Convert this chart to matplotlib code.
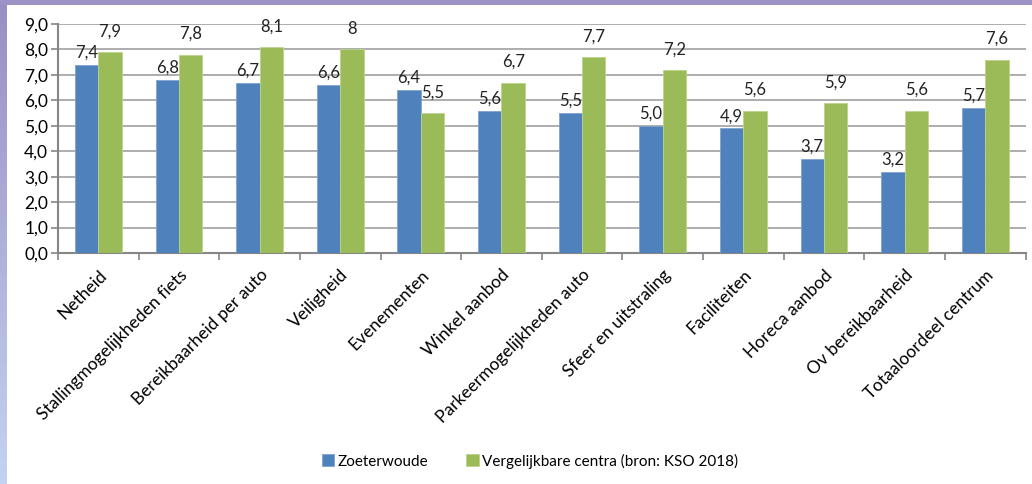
import numpy as np
import matplotlib
matplotlib.use('Agg')
import matplotlib.pyplot as plt
from matplotlib.ticker import MultipleLocator, FuncFormatter
from matplotlib.patches import Rectangle

plt.rcParams['font.family'] = ['Lato', 'DejaVu Sans']

categories = ['Netheid', 'Stallingmogelijkheden fiets', 'Bereikbaarheid per auto',
              'Veiligheid', 'Evenementen', 'Winkel aanbod',
              'Parkeermogelijkheden auto', 'Sfeer en uitstraling', 'Faciliteiten',
              'Horeca aanbod', 'Ov bereikbaarheid', 'Totaaloordeel centrum']
zoeterwoude = [7.4, 6.8, 6.7, 6.6, 6.4, 5.6, 5.5, 5.0, 4.9, 3.7, 3.2, 5.7]
vergelijkbaar = [7.9, 7.8, 8.1, 8.0, 5.5, 6.7, 7.7, 7.2, 5.6, 5.9, 5.6, 7.6]
labels_zoeterwoude = ['7,4', '6,8', '6,7', '6,6', '6,4', '5,6', '5,5', '5,0', '4,9', '3,7', '3,2', '5,7']
labels_vergelijkbaar = ['7,9', '7,8', '8,1', '8', '5,5', '6,7', '7,7', '7,2', '5,6', '5,9', '5,6', '7,6']
series_names = ['Zoeterwoude', 'Vergelijkbare centra (bron: KSO 2018)']

blue = '#4F81BD'
green = '#9BBB59'

fig = plt.figure(figsize=(10.32, 4.84), dpi=100)
ax = fig.add_axes([58 / 1032, 1 - 253 / 484, (1025.5 - 58) / 1032, (253 - 24) / 484])

x = np.arange(len(categories))
w = 0.29
b1 = ax.bar(x - w / 2, zoeterwoude, w, color=blue, edgecolor='#7fa3d1', linewidth=0.6,
            label=series_names[0], zorder=3)
b2 = ax.bar(x + w / 2, vergelijkbaar, w, color=green, edgecolor='#bcd48d', linewidth=0.6,
            label=series_names[1], zorder=3)

for rect, lab in zip(b1, labels_zoeterwoude):
    ax.annotate(lab, (rect.get_x() + rect.get_width() / 2, rect.get_height()),
                xytext=(0, 3), textcoords='offset points', ha='center', va='bottom',
                fontsize=12, color='#222222')
for rect, lab in zip(b2, labels_vergelijkbaar):
    ax.annotate(lab, (rect.get_x() + rect.get_width() / 2, rect.get_height()),
                xytext=(0, 9), textcoords='offset points', ha='center', va='bottom',
                fontsize=12, color='#222222')

ax.set_xlim(-0.5, len(categories) - 0.5)
ax.set_ylim(0, 9)
ax.yaxis.set_major_locator(MultipleLocator(1))
ax.yaxis.set_major_formatter(FuncFormatter(lambda v, p: '{:.1f}'.format(v).replace('.', ',')))
ax.grid(axis='y', color='#a0a0a0', linewidth=1.2, zorder=0)
ax.set_axisbelow(True)

ax.set_xticks(x)
ax.set_xticklabels(categories, rotation=45, ha='right', rotation_mode='anchor', fontsize=12.5)
ax.tick_params(axis='x', length=0, pad=10)
ax.set_xticks(np.arange(-0.5, len(categories), 1), minor=True)
ax.tick_params(axis='x', which='minor', length=5, color='#868686', width=1.2)
ax.tick_params(axis='y', length=5, color='#868686', width=1.2, labelsize=12.5, pad=2)

for s in ['top', 'right']:
    ax.spines[s].set_visible(False)
for s in ['left', 'bottom']:
    ax.spines[s].set_color('#868686')
    ax.spines[s].set_linewidth(1.5)

fig.legend(handles=[b1, b2], labels=series_names, loc='center', bbox_to_anchor=(530 / 1032, 1 - 461 / 484),
           ncol=2, frameon=False, fontsize=11, handlelength=0.8, handleheight=0.8,
           handletextpad=0.2, columnspacing=2.5)

# purple frame edges at top and left
fig.patches.append(Rectangle((0, 1 - 5 / 484), 1, 5 / 484, transform=fig.transFigure,
                             facecolor='#9d93c6', edgecolor='none'))
left = fig.add_axes([0, 0, 7 / 1032, 1 - 5 / 484])
left.imshow(np.linspace(0, 1, 100).reshape(-1, 1),
            cmap=matplotlib.colors.LinearSegmentedColormap.from_list('l', ['#9a8fc4', '#c3d3ef']),
            aspect='auto', extent=(0, 1, 0, 1))
left.axis('off')

fig.savefig('out.png', dpi=100)
